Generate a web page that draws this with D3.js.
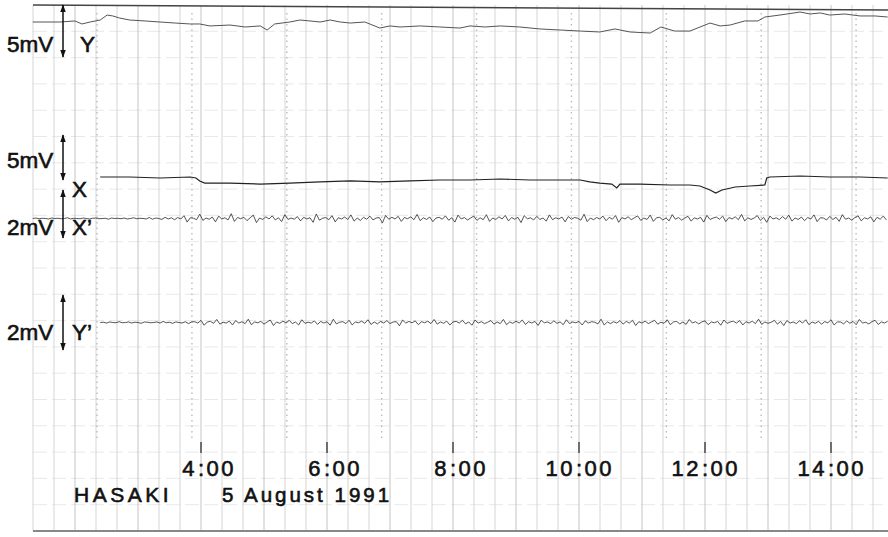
<!DOCTYPE html>
<html>
<head>
<meta charset="utf-8">
<script src="https://cdn.jsdelivr.net/npm/d3@7"></script>
<style>
  body { margin: 0; background: #fff; }
  svg { display: block; }
  .lbl { font-family: "Liberation Sans", Arial, sans-serif; fill: #111; stroke: #111; stroke-width: 0.6; }
</style>
</head>
<body>
<svg id="chart" width="888" height="537"></svg>
<script>
// ---- data (time in hours, deflection in mV) ----
const yTrace = [
  [1.33,0],[1.76,0],[2.00,0.1],[2.11,-0.19],[2.24,0],[2.40,0.19],[2.51,0.67],[2.60,0.58],
  [2.71,0.38],[2.87,0.19],[3.11,0.1],[3.35,0],[3.59,-0.1],[3.83,-0.19],[3.98,-0.19],
  [4.14,-0.38],[4.46,-0.29],[4.70,-0.48],[4.94,-0.38],[5.05,-0.77],[5.17,-0.19],[5.41,0],
  [5.57,0.19],[5.73,0.1],[5.89,0],[6.05,0.19],[6.21,0],[6.37,-0.1],[6.60,0],[6.84,-0.58],
  [7.00,-0.38],[7.16,-0.48],[7.48,-0.38],[7.79,-0.48],[8.11,-0.58],[8.27,-0.38],[8.51,-0.48],
  [8.75,-0.38],[9.06,-0.48],[9.38,-0.67],[9.70,-0.77],[10.02,-0.87],[10.33,-0.96],[10.57,-0.67],
  [10.81,-0.96],[11.13,-1.06],[11.30,-0.48],[11.52,-0.87],[11.76,-0.87],[12.08,-0.1],[12.24,-0.38],
  [12.40,-0.29],[12.63,0.1],[12.84,0.1],[12.95,0.48],[13.19,0.67],[13.51,0.96],[13.67,0.77],
  [13.83,0.87],[13.98,0.67],[14.22,0.77],[14.46,0.58],[14.70,0.58],[14.90,0.48]
];

const xTrace = [
  [2.40,0.11],[2.87,0.11],[3.35,0],[3.83,0.11],[3.92,0],[3.98,-0.33],[4.06,-0.56],[4.46,-0.56],
  [4.94,-0.67],[5.41,-0.56],[5.89,-0.44],[6.37,-0.33],[6.84,-0.44],[7.32,-0.33],[7.79,-0.22],
  [8.27,-0.22],[8.75,-0.11],[9.22,-0.22],[9.70,-0.22],[10.02,-0.22],[10.17,-0.44],[10.33,-0.56],
  [10.52,-0.67],[10.60,-1.11],[10.65,-0.67],[10.97,-0.67],[11.44,-0.78],[11.76,-0.78],
  [11.92,-0.89],[12.08,-1.33],[12.17,-1.67],[12.27,-1.33],[12.48,-1.0],[12.71,-0.89],
  [12.95,-0.78],[12.98,0],[13.03,0.11],[13.51,0.22],[13.98,0.11],[14.46,0.11],[14.90,0]
];

// X' and Y' are sampled every 0.05 h from their start times
const noiseStep = 0.05;
const xPrimeStart = 1.33;
const xPrimeNoise = [
  0,.02,-.01,.01,0,-.02,.02,0,.01,-.01,0,.03,-.02,.01,0,-.01,.02,0,-.02,.01,.02,-.01,0,.01,-.03,.02,0,.01,-.01,.02,-.02,0,.03,-.01,.01,0,-.02,.04,-.03,.02,0,-.04,.05,-.02,.03,-.05,
  .04,-.02,.12,-.15,.03,.01,-.05,.18,-.08,.02,-.03,.06,-.14,.1,-.02,.03,-.06,.2,-.12,.04,
  -.01,.05,-.09,.03,.14,-.17,.02,-.04,.07,-.02,.11,-.06,.03,-.13,.16,-.04,.02,-.03,.08,-.1,
  .05,-.02,.03,-.16,.19,-.07,.01,.04,-.05,.12,-.14,.03,-.02,.06,-.04,.15,-.11,.02,-.08,.05,
  -.03,.1,-.06,.02,.04,-.18,.13,-.03,.05,-.02,.09,-.12,.04,-.01,.07,-.05,.17,-.09,.03,-.04,
  .06,-.13,.02,.05,-.03,.11,-.07,.03,-.15,.14,-.02,.04,-.06,.02,.1,-.08,.03,-.05,.16,-.12,
  .02,-.04,.07,-.02,.13,-.1,.04,-.03,.05,-.17,.12,-.01,.03,-.06,.09,-.04,.02,-.11,.15,-.05,
  .03,-.02,.06,-.14,.08,-.03,.04,.01,-.07,.18,-.13,.02,-.05,.04,-.02,.1,-.09,.05,-.03,.12,
  -.16,.04,-.02,.07,-.05,.03,.11,-.08,.02,-.04,.14,-.12,.03,.05,-.06,.02,-.1,.16,-.03,.04,
  -.07,.02,.09,-.11,.03,-.02,.05,-.15,.13,-.04,.02,.06,-.03,.1,-.13,.04,-.02,.07,-.05,.17,
  -.1,.03,-.04,.02,.12,-.08,.05,-.16,.1,-.02,.03,-.05,.08,-.03,.14,-.11,.02,-.04,.06,-.09,
  .04,-.02,.15,-.13,.03,.02,-.06,.09,-.04,.05,-.12,.16,-.03,.02,-.07,.04,.11,-.1,.03,-.02,
  .07,-.14,.05,-.03,.1,-.06
];

const yPrimeStart = 2.40;
const yPrimeNoise = [
  0,.01,-.02,.02,0,-.01,.03,-.01,0,.02,-.02,.01,0,-.03,.02,.01,-.01,0,.02,-.02,.04,-.01,.01,-.03,.02,0,-.02,.03,-.04,.02,
  .03,-.02,.08,-.1,.02,.04,-.03,.11,-.06,.01,-.02,.05,-.09,.07,-.02,.03,-.04,.12,-.08,.02,
  -.01,.04,-.06,.02,.09,-.11,.02,-.03,.05,-.02,.08,-.04,.02,-.09,.1,-.03,.01,-.02,.06,-.07,
  .04,-.02,.03,-.1,.12,-.05,.01,.03,-.04,.08,-.09,.02,-.01,.05,-.03,.1,-.07,.02,-.05,.04,
  -.02,.07,-.04,.02,.03,-.12,.09,-.02,.04,-.01,.06,-.08,.03,-.01,.05,-.04,.11,-.06,.02,-.03,
  .05,-.09,.02,.04,-.02,.08,-.05,.02,-.1,.09,-.02,.03,-.04,.01,.07,-.06,.02,-.04,.11,-.08,
  .02,-.03,.05,-.02,.09,-.07,.03,-.02,.04,-.11,.08,-.01,.02,-.04,.06,-.03,.02,-.08,.1,-.04,
  .02,-.01,.04,-.09,.06,-.02,.03,.01,-.05,.12,-.09,.02,-.04,.03,-.02,.07,-.06,.04,-.02,.08,
  -.11,.03,-.02,.05,-.04,.02,.08,-.06,.01,-.03,.1,-.08,.02,.04,-.05,.02,-.07,.11,-.02,.03,
  -.05,.02,.06,-.08,.02,-.01,.04,-.1,.09,-.03,.02,.05,-.02,.07,-.09,.03,-.02,.05,-.04,.12,
  -.07,.02,-.03,.01,.08,-.06,.04,-.11,.07,-.02,.02,-.04,.06,-.02,.1,-.08,.02,-.03,.04,-.06,
  .03,-.01,.1,-.09,.02,.02,-.05,.06,-.03,.04,-.08,.11,-.02,.01,-.05,.03,.08,-.07,.02,-.02,
  .05
];

const timeTicks = [4, 6, 8, 10, 12, 14];
const channelNames = ["Y", "X", "X\u2019", "Y\u2019"];
const calibrationMV = [5, 5, 2, 2];
const station = "HASAKI";
const dateText = "5 August 1991";

// ---- layout ----
const svg = d3.select("#chart");
const paperLeft = 33, paperRight = 888, paperTop = 5, paperBottom = 531;

const x = d3.scaleLinear().domain([4, 14]).range([201, 831]);
const paperRows = d3.scaleLinear().domain([0, 20]).range([paperTop, paperBottom]);

// per channel: baseline of trace, calibration arrow ends, label positions
const layout = [
  { base: 22,    a0: 5,   a1: 57,  labelY: 52,  nameX: 80 },
  { base: 178,   a0: 135, a1: 180, labelY: 168, nameX: 72, nameY: 197 },
  { base: 218.5, a0: 190, a1: 238, labelY: 235, nameX: 72 },
  { base: 322.5, a0: 295, a1: 350, labelY: 340, nameX: 72 }
];
// mV -> pixel offset, from each calibration arrow
const amp = layout.map((l, i) => d3.scaleLinear().domain([0, calibrationMV[i]]).range([0, l.a1 - l.a0]));

// ---- chart paper ----
const grid = svg.append("g");
grid.selectAll(".hgrid")
  .data(d3.range(1, 20))
  .enter().append("line")
  .attr("x1", paperLeft).attr("x2", paperRight)
  .attr("y1", d => paperRows(d)).attr("y2", d => paperRows(d))
  .attr("stroke", "#e2e2e2").attr("stroke-width", 0.8)
  .attr("stroke-dasharray", "14 5");

grid.selectAll(".vgrid")
  .data(d3.range(-8, 33).map(k => 4 + k / 3))
  .enter().append("line")
  .attr("x1", d => x(d)).attr("x2", d => x(d))
  .attr("y1", paperTop).attr("y2", paperBottom)
  .attr("stroke", (d, i) => i % 3 === 2 ? "#bdbdbd" : "#d0d0d0")
  .attr("stroke-width", 0.9);

// dotted perforation columns of the paper
grid.selectAll(".perf")
  .data(d3.range(0, 9).map(k => 2.35 + 1.506 * k))
  .enter().append("line")
  .attr("x1", d => x(d)).attr("x2", d => x(d))
  .attr("y1", paperTop + 8).attr("y2", paperBottom - 90)
  .attr("stroke", "#bcbcbc").attr("stroke-width", 1.4)
  .attr("stroke-dasharray", "1.5 4");

grid.append("line")
  .attr("x1", paperLeft).attr("x2", paperRight).attr("y1", paperTop).attr("y2", paperTop + 5)
  .attr("stroke", "#444").attr("stroke-width", 1.4);
grid.append("line")
  .attr("x1", paperLeft).attr("x2", paperRight).attr("y1", paperBottom).attr("y2", paperBottom)
  .attr("stroke", "#888").attr("stroke-width", 2);

// ---- traces ----
function lineFor(ch) {
  return d3.line()
    .x(d => x(d[0]))
    .y(d => layout[ch].base - amp[ch](d[1]));
}
const sampled = (start, vals) => vals.map((v, i) => [start + i * noiseStep, v]);

svg.append("path").datum(yTrace)
  .attr("d", lineFor(0)).attr("fill", "none")
  .attr("stroke", "#555").attr("stroke-width", 1);
svg.append("path").datum(xTrace)
  .attr("d", lineFor(1)).attr("fill", "none")
  .attr("stroke", "#222").attr("stroke-width", 1.2);
svg.append("path").datum(sampled(xPrimeStart, xPrimeNoise))
  .attr("d", lineFor(2)).attr("fill", "none")
  .attr("stroke", "#2a2a2a").attr("stroke-width", 0.8);
svg.append("path").datum(sampled(yPrimeStart, yPrimeNoise))
  .attr("d", lineFor(3)).attr("fill", "none")
  .attr("stroke", "#2a2a2a").attr("stroke-width", 0.8);

// ---- calibration arrows and labels ----
const defs = svg.append("defs");
defs.append("marker").attr("id", "head")
  .attr("viewBox", "0 0 10 10").attr("refX", 9).attr("refY", 5)
  .attr("markerWidth", 8).attr("markerHeight", 8)
  .attr("markerUnits", "userSpaceOnUse")
  .attr("orient", "auto-start-reverse")
  .append("path").attr("d", "M0,1.5L10,5L0,8.5Z").attr("fill", "#111");

const arrowX = 63;
svg.selectAll(".cal")
  .data(layout)
  .enter().append("line")
  .attr("x1", arrowX).attr("x2", arrowX)
  .attr("y1", d => d.a0).attr("y2", d => d.a1)
  .attr("stroke", "#111").attr("stroke-width", 1.5)
  .attr("marker-start", "url(#head)").attr("marker-end", "url(#head)");

svg.selectAll(".calText")
  .data(layout)
  .enter().append("text")
  .attr("class", "lbl")
  .attr("x", 7).attr("y", d => d.labelY)
  .attr("font-size", 22.5)
  .text((d, i) => calibrationMV[i] + "mV");

svg.selectAll(".chName")
  .data(layout)
  .enter().append("text")
  .attr("class", "lbl")
  .attr("x", d => d.nameX).attr("y", d => d.nameY || d.labelY)
  .attr("font-size", 22.5)
  .text((d, i) => channelNames[i]);

// ---- time axis ----
const axis = svg.append("g");
axis.selectAll(".tick")
  .data(timeTicks)
  .enter().append("line")
  .attr("x1", d => x(d)).attr("x2", d => x(d))
  .attr("y1", 442).attr("y2", 453)
  .attr("stroke", "#222").attr("stroke-width", 1.2);
axis.selectAll(".hr")
  .data(timeTicks)
  .enter().append("text")
  .attr("class", "lbl")
  .attr("x", d => x(d) - 4).attr("y", 476)
  .attr("text-anchor", "end")
  .attr("font-size", 22).attr("letter-spacing", 2.5)
  .text(d => d);
axis.selectAll(".mn")
  .data(timeTicks)
  .enter().append("text")
  .attr("class", "lbl")
  .attr("x", d => x(d) - 3).attr("y", 476)
  .attr("font-size", 22).attr("letter-spacing", 2.5)
  .text(":00");

svg.append("text").attr("class", "lbl")
  .attr("x", 74).attr("y", 502)
  .attr("font-size", 21).attr("letter-spacing", 3.5)
  .text(station);
svg.append("text").attr("class", "lbl")
  .attr("x", 222).attr("y", 502)
  .attr("font-size", 20.5).attr("letter-spacing", 3)
  .text(dateText);
</script>
</body>
</html>
